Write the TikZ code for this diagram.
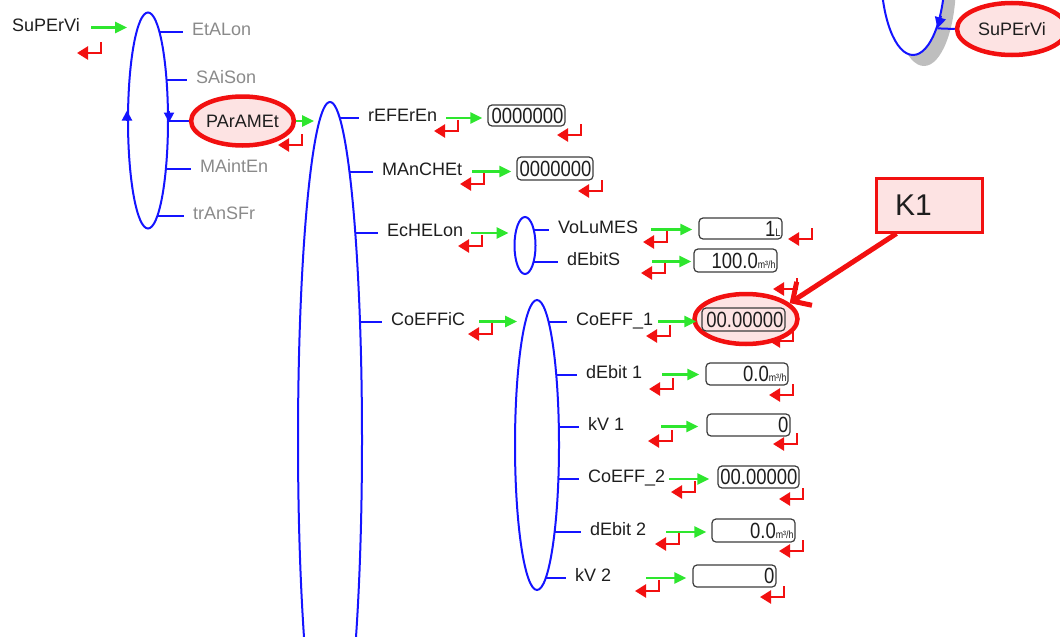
\documentclass[tikz,border=0pt]{standalone}
\usepackage{fontspec}
\setmainfont{Liberation Sans}
\usepackage{graphicx}
\usepackage{tikz}
\usetikzlibrary{arrows.meta,shapes.geometric,backgrounds}
\definecolor{navblue}{HTML}{1414FF}
\definecolor{golime}{HTML}{2EE62E}
\definecolor{backred}{HTML}{F21010}
\definecolor{hlpink}{HTML}{FDE3E3}
\definecolor{dimtext}{HTML}{8A8A8A}
\definecolor{ink}{HTML}{1E1E1E}
\definecolor{boxline}{HTML}{3C3C3C}
\definecolor{shade}{HTML}{BEBEBE}
\newcommand{\lblfont}{\fontsize{18}{21}\selectfont}
\newcommand{\valtext}[1]{\scalebox{0.84}[1]{\fontsize{22}{24}\selectfont #1}}
\newcommand{\unitmh}{{\fontsize{10.5}{11}\selectfont m³/h}}
\newcommand{\unitl}{{\fontsize{11}{12}\selectfont L}}
\tikzset{
  menu/.style={ellipse, draw=navblue, line width=2pt, fill=white, inner sep=0pt},
  branch/.style={draw=navblue, line width=2pt, shorten >=7pt},
  lbl/.style={font=\lblfont, text=ink, anchor=west, inner xsep=2pt, inner ysep=0pt,
    text height=12pt, text depth=5pt},
  greyed/.style={lbl, text=dimtext},
  valbox/.style={draw=boxline, line width=1.2pt, rounded corners=4pt, fill=white,
    inner xsep=1.5pt, inner ysep=0pt, text=ink, align=right,
    text height=15.6pt, text depth=0pt},
  fwd/.style={golime, line width=2.5pt, -{Triangle[length=12pt,width=11pt]}},
  hilite/.style={ellipse, draw=backred, line width=4.5pt, fill=hlpink, inner sep=0pt},
  retkey/.pic={\draw[backred, line width=2.4pt, -{Triangle[length=11pt,width=13pt]}] (0,-11) |- (-24,0);}
}

\begin{document}
\begin{tikzpicture}[x=1pt, y=-1pt]
  \useasboundingbox (0,0) rectangle (1060,637);
  \clip (0,0) rectangle (1060,637);

  % loop seen at the top right
  \node[ellipse, fill=shade, inner sep=0pt, minimum width=64pt, minimum height=168pt] (trshadow) at (924,-18) {};
  \node[menu, minimum width=64pt, minimum height=168pt] (menutr) at (913,-29) {};
  \node[hilite, minimum width=110pt, minimum height=52pt, font=\lblfont, text=ink] (superv2) at (1012,29) {SuPErVi};
  \draw[navblue, line width=2pt] (menutr.-67) -- (superv2.west);
  \draw[navblue, line width=2pt, -{Triangle[length=11pt,width=11pt]}] (menutr.-58) -- (menutr.-67);

  % menu loops
  \node[menu, minimum width=40pt, minimum height=216pt] (menu0) at (148,120.5) {};
  \node[menu, minimum width=64pt, minimum height=676pt] (menu1) at (330,440) {};
  \node[menu, minimum width=21pt, minimum height=57pt] (menu2) at (525,245.5) {};
  \node[menu, minimum width=44pt, minimum height=290pt] (menu3) at (537,445) {};
  \draw[navblue, line width=2pt, -{Triangle[length=10pt,width=10pt]}] (menu0.west) -- ([yshift=10pt]menu0.west);
  \draw[navblue, line width=2pt, -{Triangle[length=10pt,width=10pt]}] ([yshift=10pt]menu0.east) -- ([yshift=-2pt]menu0.east);

  \node[lbl] (supervi) at (10,27.5) {SuPErVi};
  \node[greyed] (etalon) at (190,32) {EtALon};
  \node[greyed] (saison) at (194,79.5) {SAiSon};
  \node[hilite, minimum width=101pt, minimum height=49pt, font=\lblfont, text=ink] (paramet) at (242.5,121) {PArAMEt};
  \node[greyed] (mainten) at (198,168.5) {MAintEn};
  \node[greyed] (transfr) at (191,215.5) {trAnSFr};
  \node[lbl] (referen) at (366,118) {rEFErEn};
  \node[lbl] (manchet) at (380,171.5) {MAnCHEt};
  \node[lbl] (echelon) at (385,233) {EcHELon};
  \node[lbl] (volumes) at (556,229.5) {VoLuMES};
  \node[lbl] (debits) at (565,261.5) {dEbitS};
  \node[lbl] (coeffic) at (389,321.5) {CoEFFiC};
  \node[lbl] (coeff1) at (574,321.5) {CoEFF\_1};
  \node[lbl] (debit1) at (584,374.5) {dEbit 1};
  \node[lbl] (kv1) at (586,426.5) {kV 1};
  \node[lbl] (coeff2) at (586,479) {CoEFF\_2};
  \node[lbl] (debit2) at (588,532) {dEbit 2};
  \node[lbl] (kv2) at (573,578) {kV 2};

  \begin{scope}[on background layer]
    \foreach \m/\t in {menu0/etalon, menu0/saison, menu0/mainten, menu0/transfr,
        menu1/referen, menu1/manchet, menu1/echelon, menu1/coeffic,
        menu2/volumes, menu2/debits, menu3/coeff1, menu3/debit1, menu3/kv1,
        menu3/coeff2, menu3/debit2, menu3/kv2}
      \draw[branch] (\m |- \t.west) -- (\t.west);
    \draw[branch, shorten >=0pt] (menu0 |- paramet) -- (paramet);
  \end{scope}

  \foreach \p in {(101,53),(302,145),(458,131),(581,135),(484,184),(602,191),(482,246),
      (667,242),(812,239),(665,273),(797,289),(492,334),(670,336),(793,341),(673,389),
      (793,395),(672,441),(797,444),(695,492),(803,499),(679,544),(803,551),(659,591),(784,597)}
    \pic at \p {retkey};

  \node[hilite, minimum width=103pt, minimum height=50pt] (hl) at (746,319) {};

  \node[valbox, text width=74pt, minimum height=21pt] (refbox) at (526.5,115.5) {\valtext{0000000}};
  \node[valbox, text width=73pt, minimum height=23pt] (manbox) at (555,168.5) {\valtext{0000000}};
  \node[valbox, text width=80pt, minimum height=21pt] (volbox) at (740.5,228.5) {\valtext{1\unitl}};
  \node[valbox, text width=80pt, minimum height=23pt] (debbox) at (735.5,260.5) {\valtext{100.0\unitmh}};
  \node[valbox, fill=hlpink, text width=80pt, minimum height=23pt] (c1box) at (743.5,319.5) {\valtext{00.00000}};
  \node[valbox, text width=79pt, minimum height=22pt] (d1box) at (747,374) {\valtext{0.0\unitmh}};
  \node[valbox, text width=80pt, minimum height=22pt] (k1box) at (748.5,425) {\valtext{0}};
  \node[valbox, text width=78pt, minimum height=22pt] (c2box) at (758.5,477) {\valtext{00.00000}};
  \node[valbox, text width=80pt, minimum height=23pt] (d2box) at (753.5,530.5) {\valtext{0.0\unitmh}};
  \node[valbox, text width=80pt, minimum height=22pt] (k2box) at (734.5,576) {\valtext{0}};

  \foreach \a/\b/\s/\e in {supervi/menu0/9/0, paramet/menu1/0/17, referen/refbox/7/-5,
      manchet/manbox/8/-5, echelon/menu2/6/-5, volumes/volbox/11/-6, debits/debbox/30/-2,
      coeffic/menu3/12/3, coeff1/c1box/3/-5, debit1/d1box/18/-6, kv1/k1box/35/-8,
      coeff2/c2box/2/-8, debit2/d2box/18/-5, kv2/k2box/33/-6}
    \draw[fwd] ([xshift=\s pt]\a.east) -- ([xshift=\e pt]\a.east -| \b.west);

  \node[draw=backred, fill=hlpink, line width=3pt, minimum width=106pt, minimum height=54pt,
    text width=68pt, inner xsep=19pt, align=left, font=\fontsize{30}{34}\selectfont, text=ink] (k1note) at (929,205) {K1};
  \draw[backred, line width=5pt, -{Straight Barb[length=14pt,width=28pt]}] ([xshift=22pt]k1note.south west) -- (hl.20);
\end{tikzpicture}
\end{document}
